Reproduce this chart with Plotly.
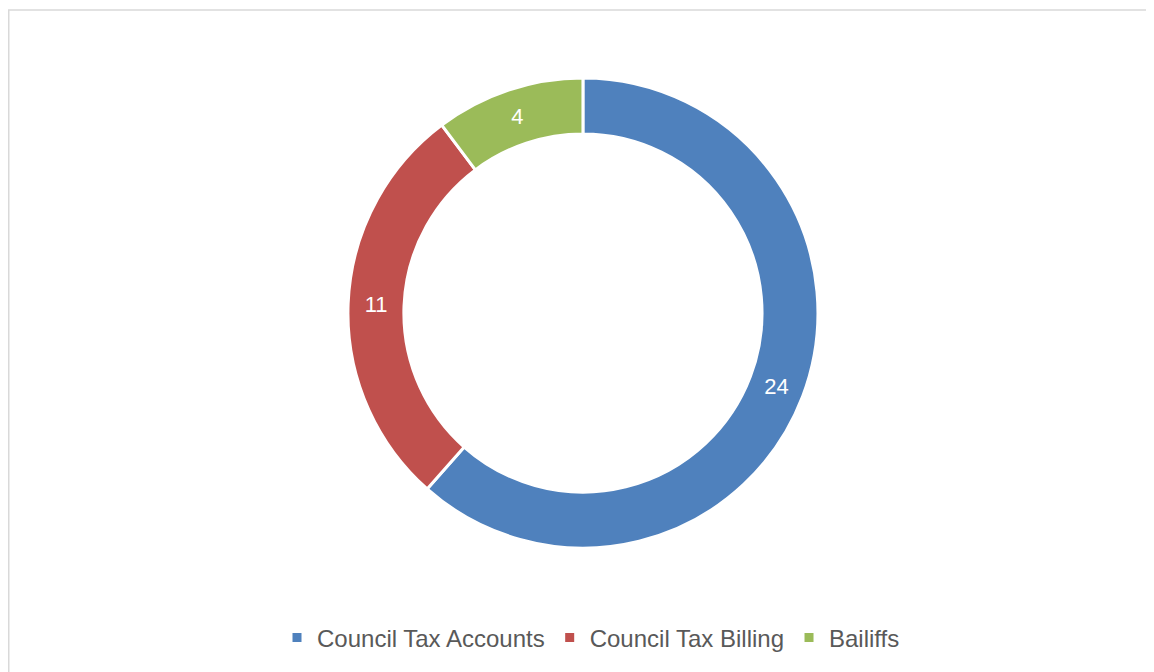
import plotly.graph_objects as go

categories = ["Council Tax Accounts", "Council Tax Billing", "Bailiffs"]
counts = [24, 11, 4]
colors = ["#4F81BD", "#C0504D", "#9BBB59"]

# page body has an 8px margin, so the figure is sized to end at the window edge
W, H = 1146, 664

fig = go.Figure(go.Pie(
    labels=categories,
    values=counts,
    hole=0.762,
    sort=False,
    direction="clockwise",
    rotation=0,
    marker=dict(colors=colors, line=dict(color="white", width=3)),
    textinfo="value",
    textposition="inside",
    insidetextorientation="horizontal",
    textfont=dict(family="Liberation Sans, Arial, sans-serif", size=22, color="white"),
    domain=dict(x=[0.2517, 0.7517], y=[(H - 540) / H, (H - 70) / H]),
    hoverinfo="label+value",
))

fig.update_layout(
    width=W,
    height=H,
    paper_bgcolor="white",
    plot_bgcolor="white",
    margin=dict(l=0, r=0, t=0, b=0),
    font=dict(family="Liberation Sans, Arial, sans-serif", size=24, color="#595959"),
    showlegend=True,
    legend=dict(
        orientation="h",
        x=583 / W, xanchor="center",
        y=(H - 630) / H, yanchor="middle",
        font=dict(size=24, color="#595959"),
        traceorder="normal",
    ),
    shapes=[dict(
        type="rect", xref="paper", yref="paper",
        x0=0.75 / W, x1=1.02, y0=-0.02, y1=(H - 2) / H,
        line=dict(color="#D9D9D9", width=1.5),
    )],
)

fig.write_html("out.html")
